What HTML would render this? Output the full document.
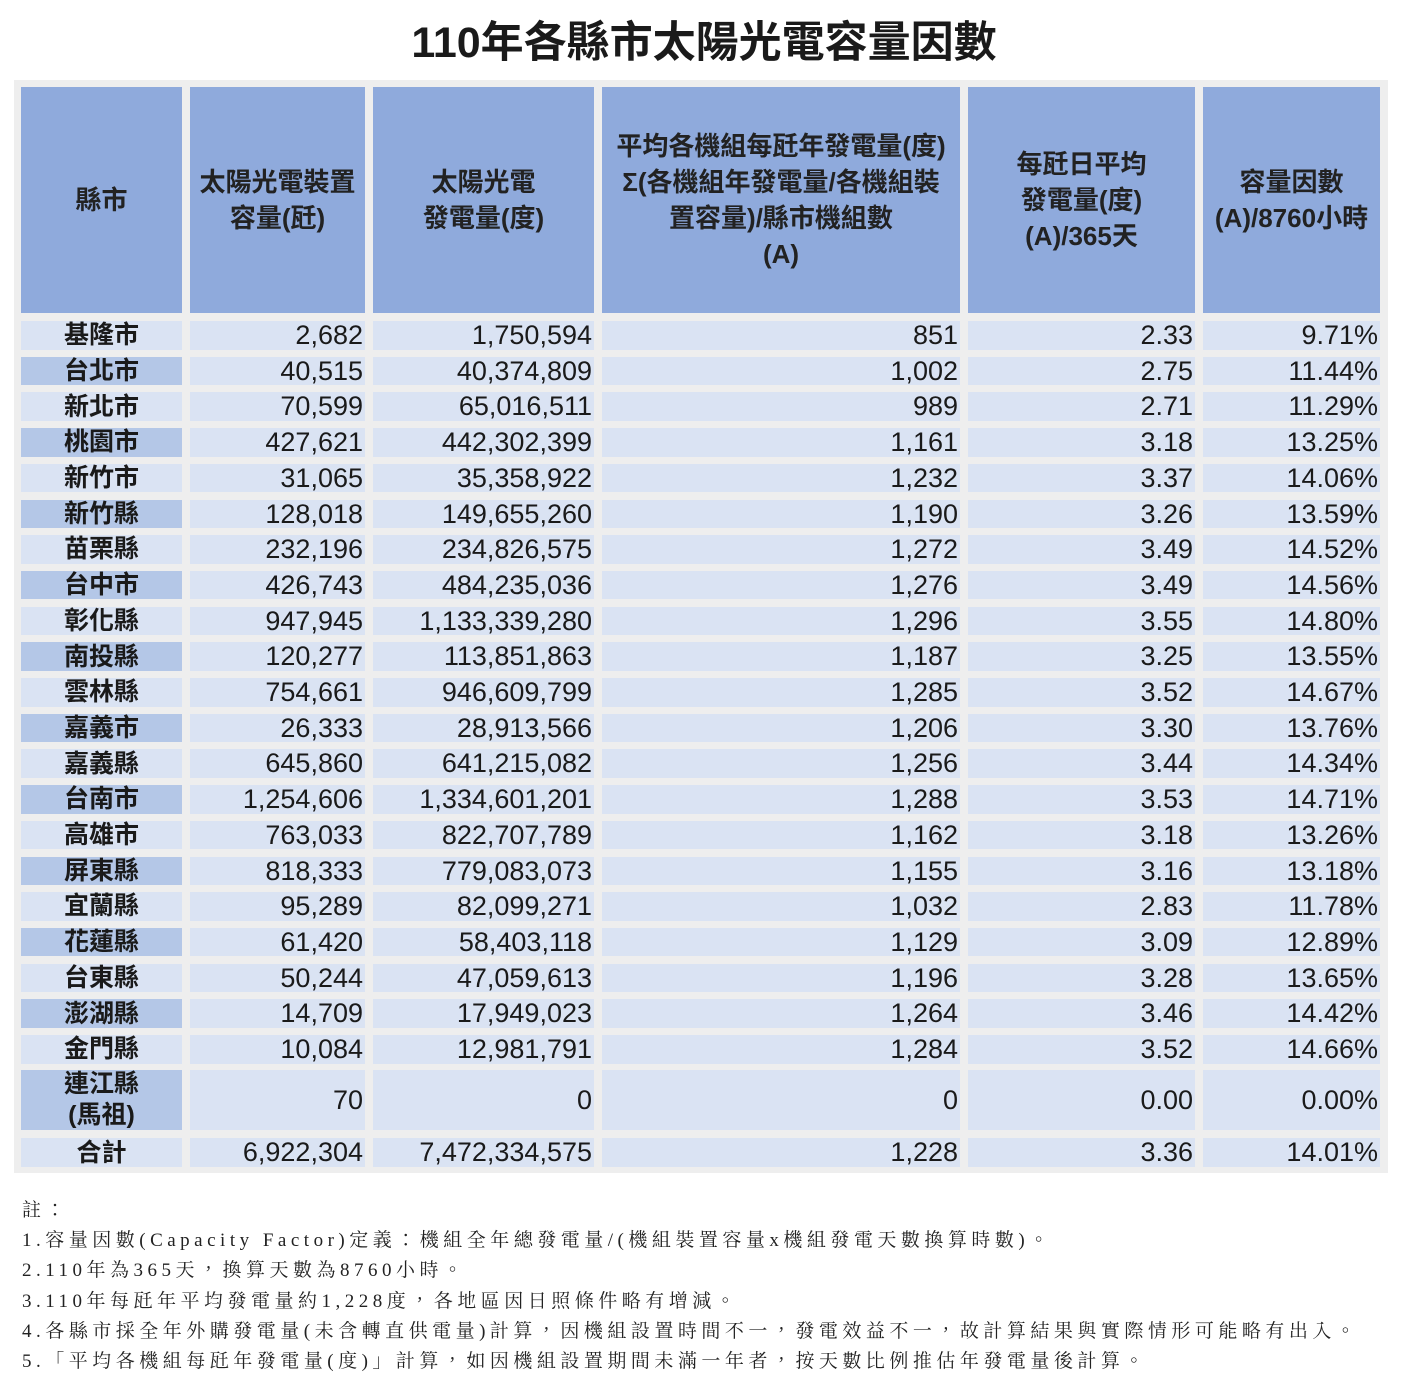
<!DOCTYPE html>
<html><head><meta charset="utf-8">
<style>
body{margin:0;background:#fff;width:1408px;height:1386px;position:relative;overflow:hidden;font-family:"Liberation Sans","Noto Sans CJK TC",sans-serif;color:#1a1a1a}
#title{position:absolute;left:0;width:1408px;top:8px;text-align:center;font-size:43px;font-weight:bold;font-family:"Liberation Sans","Noto Sans CJK TC",sans-serif}
#tbl{position:absolute;left:14px;top:80px;width:1374px;height:1093px;background:#eeeeee}
.c{position:absolute;box-sizing:border-box;display:flex;align-items:center;font-size:27px;line-height:1.2;white-space:nowrap}
.h{background:#8faadc;justify-content:center;text-align:center;font-size:26px;line-height:36px;font-weight:bold;color:#222;white-space:normal}
.n{background:#dae3f3;justify-content:flex-end;padding-right:2px}
.k{justify-content:center;text-align:center;font-weight:bold;font-size:25px}
#notes{position:absolute;left:22px;top:1196px;font-family:"Liberation Serif","Noto Serif CJK TC",serif;font-size:19px;letter-spacing:4.5px;line-height:30.2px;color:#222}
</style></head><body>
<div id="title">110年各縣市太陽光電容量因數</div>
<div id="tbl"></div>
<div id="notes">
<div>註：</div>
<div>1.容量因數(Capacity Factor)定義：機組全年總發電量/(機組裝置容量x機組發電天數換算時數)。</div>
<div>2.110年為365天，換算天數為8760小時。</div>
<div>3.110年每瓩年平均發電量約1,228度，各地區因日照條件略有增減。</div>
<div>4.各縣市採全年外購發電量(未含轉直供電量)計算，因機組設置時間不一，發電效益不一，故計算結果與實際情形可能略有出入。</div>
<div>5.「平均各機組每瓩年發電量(度)」計算，如因機組設置期間未滿一年者，按天數比例推估年發電量後計算。</div>
</div>
<script>
const headers=["縣市","太陽光電裝置<br>容量(瓩)","太陽光電<br>發電量(度)","平均各機組每瓩年發電量(度)<br>Σ(各機組年發電量/各機組裝<br>置容量)/縣市機組數<br>(A)","每瓩日平均<br>發電量(度)<br>(A)/365天","容量因數<br>(A)/8760小時"];
const counties=["基隆市","台北市","新北市","桃園市","新竹市","新竹縣","苗栗縣","台中市","彰化縣","南投縣","雲林縣","嘉義市","嘉義縣","台南市","高雄市","屏東縣","宜蘭縣","花蓮縣","台東縣","澎湖縣","金門縣","連江縣<br>(馬祖)","合計"];
const capacity=["2,682","40,515","70,599","427,621","31,065","128,018","232,196","426,743","947,945","120,277","754,661","26,333","645,860","1,254,606","763,033","818,333","95,289","61,420","50,244","14,709","10,084","70","6,922,304"];
const generation=["1,750,594","40,374,809","65,016,511","442,302,399","35,358,922","149,655,260","234,826,575","484,235,036","1,133,339,280","113,851,863","946,609,799","28,913,566","641,215,082","1,334,601,201","822,707,789","779,083,073","82,099,271","58,403,118","47,059,613","17,949,023","12,981,791","0","7,472,334,575"];
const perKw=["851","1,002","989","1,161","1,232","1,190","1,272","1,276","1,296","1,187","1,285","1,206","1,256","1,288","1,162","1,155","1,032","1,129","1,196","1,264","1,284","0","1,228"];
const daily=["2.33","2.75","2.71","3.18","3.37","3.26","3.49","3.49","3.55","3.25","3.52","3.30","3.44","3.53","3.18","3.16","2.83","3.09","3.28","3.46","3.52","0.00","3.36"];
const cf=["9.71%","11.44%","11.29%","13.25%","14.06%","13.59%","14.52%","14.56%","14.80%","13.55%","14.67%","13.76%","14.34%","14.71%","13.26%","13.18%","11.78%","12.89%","13.65%","14.42%","14.66%","0.00%","14.01%"];
const colX=[7,176,359,588,954,1189], colW=[161,175,221,358,227,177];
const tbl=document.getElementById('tbl');
function cell(x,y,w,h,cls,html){const d=document.createElement('div');d.className='c '+cls;d.style.left=x+'px';d.style.top=y+'px';d.style.width=w+'px';d.style.height=h+'px';d.innerHTML=html;tbl.appendChild(d);return d;}
headers.forEach((t,j)=>{const d=cell(colX[j],7,colW[j],226,'h',t);

});
const cols=[capacity,generation,perKw,daily,cf];
counties.forEach((c,i)=>{
  let top,h;
  if(i<21){top=241+i*35.7;h=28.5;}else if(i===21){top=990;h=60;}else{top=1058;h=29;}
  const blue=(i%2===1&&i<22);
  const k=cell(colX[0],top,colW[0],h,'k',c);k.style.background=blue?'#b4c7e7':'#dae3f3';
  
  
  if(i===21)k.style.lineHeight='1.25';
  cols.forEach((arr,j)=>{const d=cell(colX[j+1],top,colW[j+1],h,'n',arr[i]);
  
  });
});
</script>
</body></html>
